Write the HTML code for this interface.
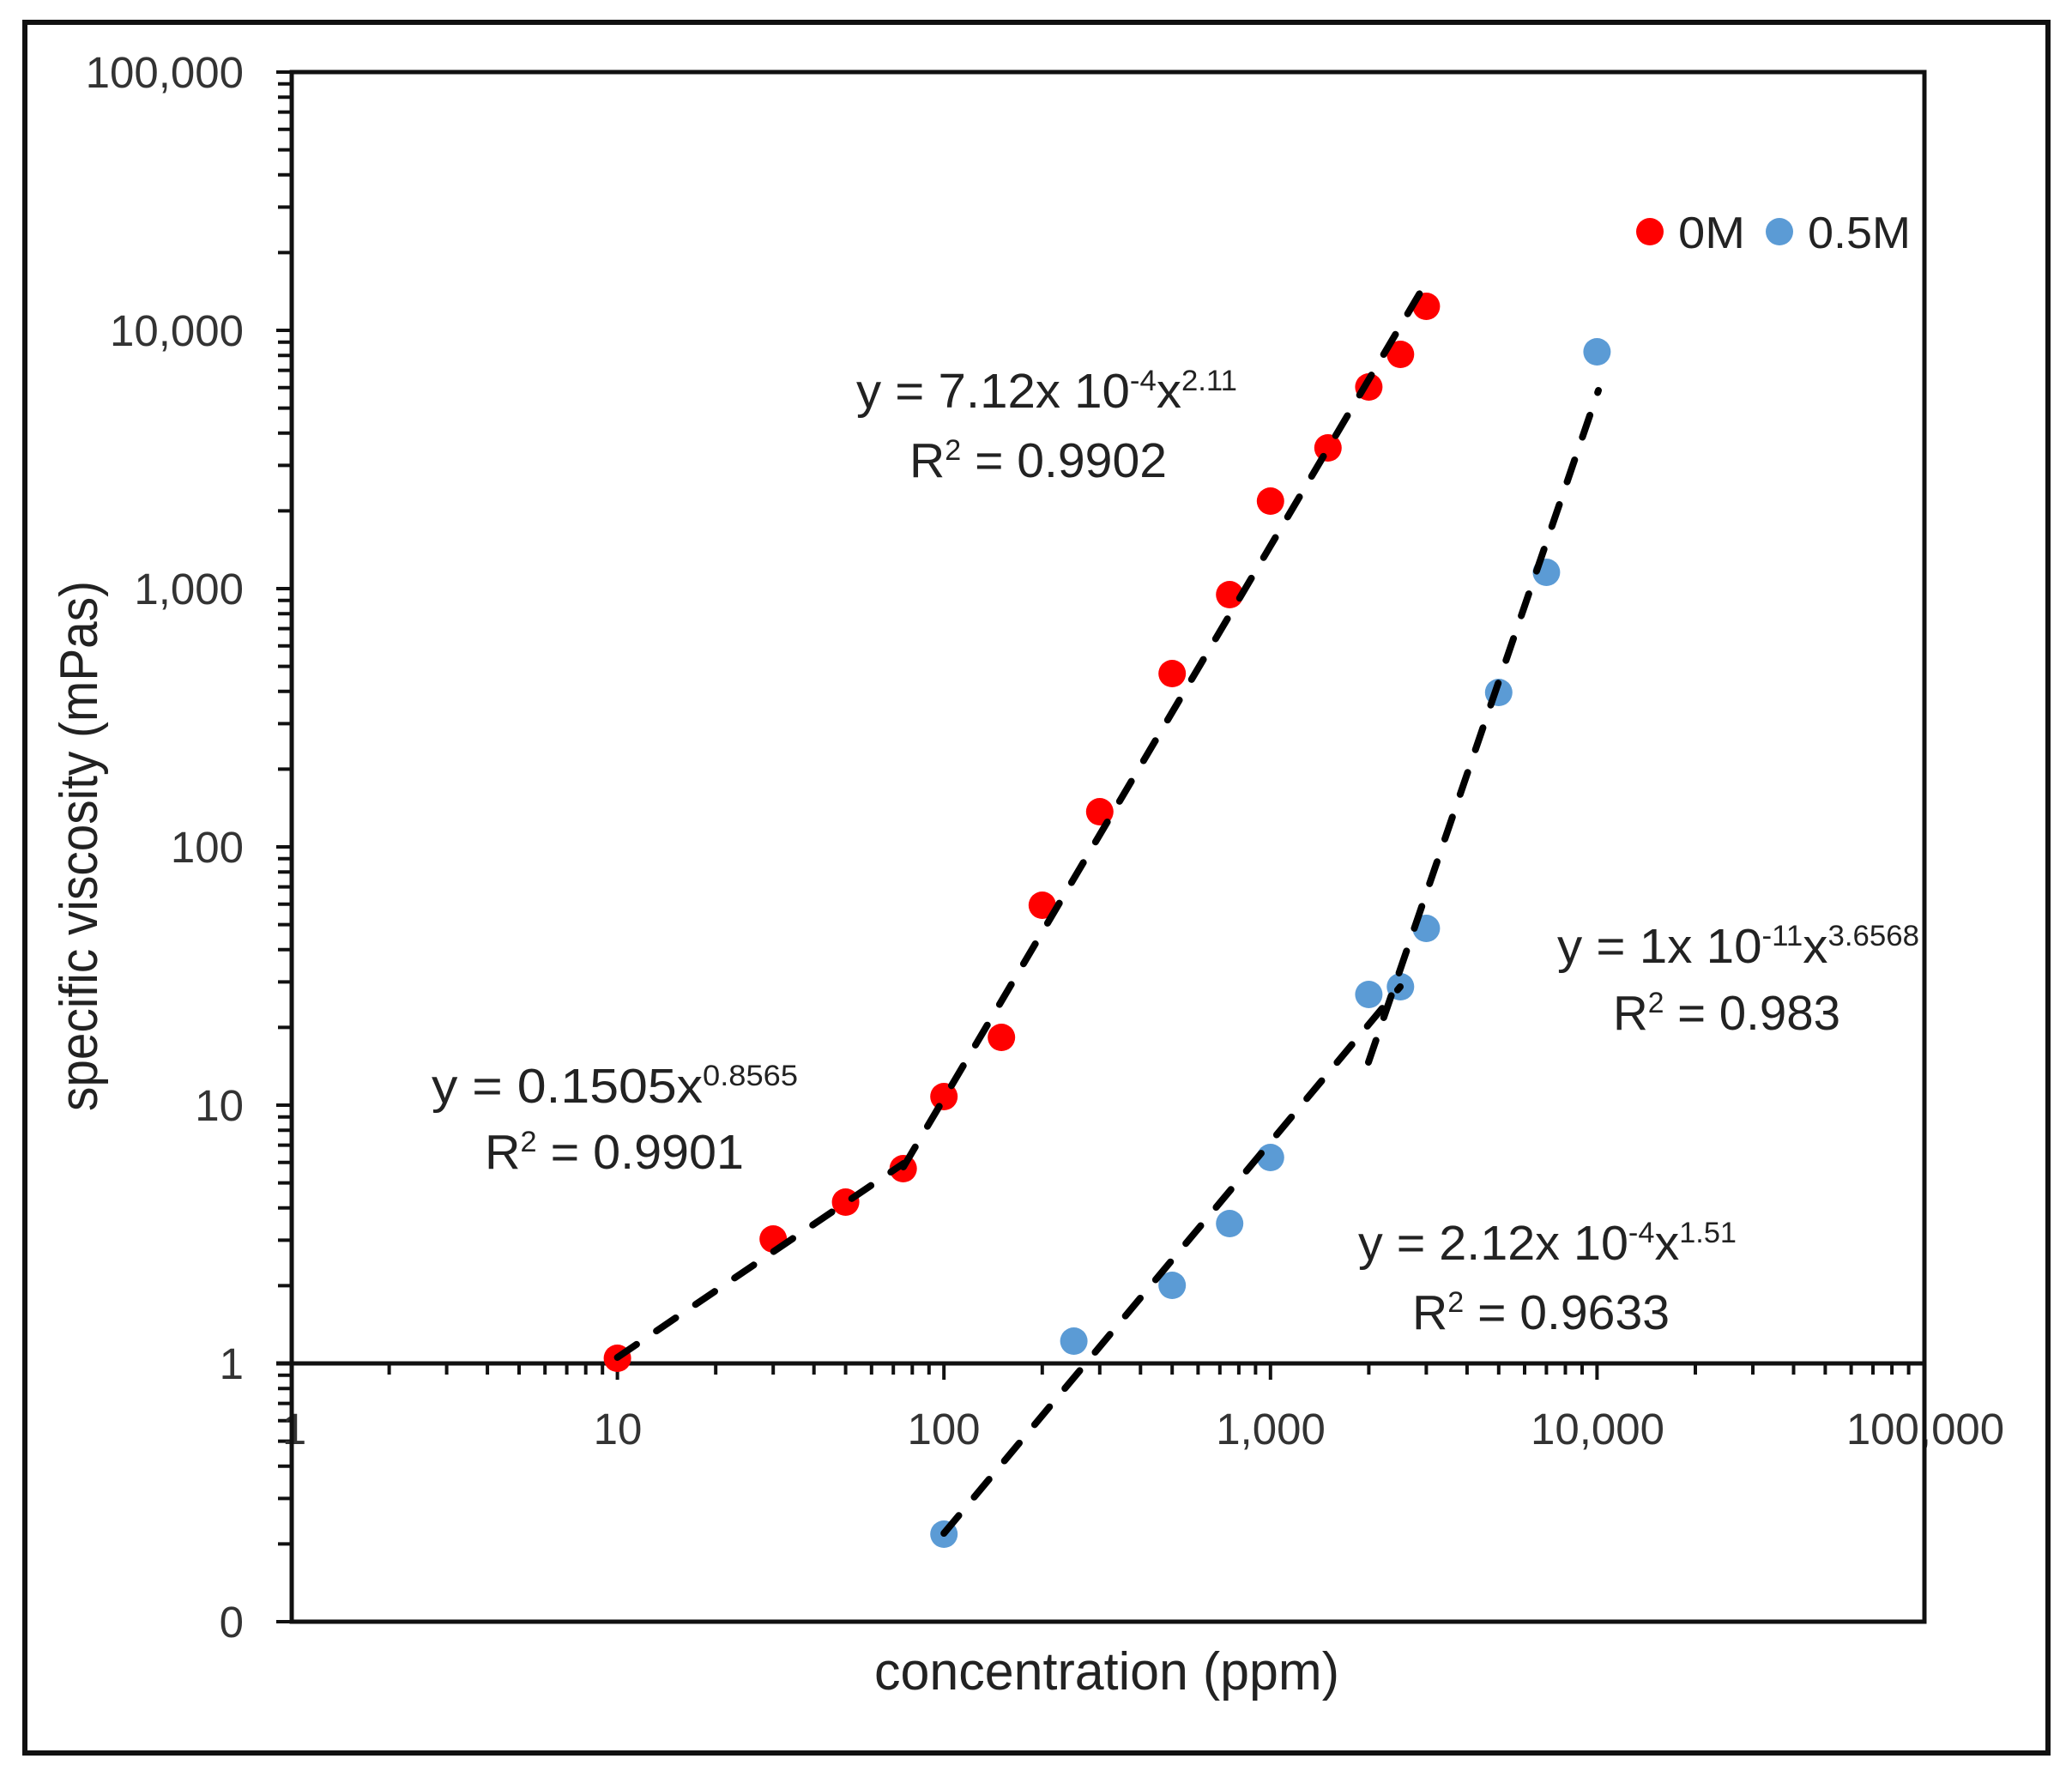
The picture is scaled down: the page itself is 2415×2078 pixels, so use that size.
<!DOCTYPE html>
<html>
<head>
<meta charset="utf-8">
<style>
  html, body { margin: 0; padding: 0; background: #ffffff; }
  svg { display: block; }
  text { font-family: "Liberation Sans", Arial, sans-serif; }
</style>
</head>
<body>
<svg width="2415" height="2078" viewBox="0 0 2415 2078" xmlns="http://www.w3.org/2000/svg">
  <rect x="0" y="0" width="2415" height="2078" fill="#ffffff"/>
  <!-- outer frame -->
  <rect x="29" y="26" width="2358" height="2017" fill="none" stroke="#111" stroke-width="6"/>

  <!-- plot border -->
  <rect x="340" y="84" width="1903" height="1806" fill="none" stroke="#111" stroke-width="5"/>
  <!-- x-axis line at y=1 -->
  <line x1="322" y1="1589" x2="2243" y2="1589" stroke="#111" stroke-width="5"/>

  <!-- Y ticks (left of axis) -->
  <g stroke="#111" stroke-width="4">
    <line x1="322" y1="84" x2="340" y2="84"/>
    <line x1="322" y1="385" x2="340" y2="385"/>
    <line x1="322" y1="686" x2="340" y2="686"/>
    <line x1="322" y1="987" x2="340" y2="987"/>
    <line x1="322" y1="1288" x2="340" y2="1288"/>
    <line x1="322" y1="1589" x2="340" y2="1589"/>
    <line x1="322" y1="1890" x2="340" y2="1890"/>
    <path d="M324 1799.4H340M324 1746.4H340M324 1708.8H340M324 1679.6H340M324 1655.8H340M324 1635.6H340M324 1618.2H340M324 1602.8H340
             M324 1498.4H340M324 1445.4H340M324 1407.8H340M324 1378.6H340M324 1354.8H340M324 1334.6H340M324 1317.2H340M324 1301.8H340
             M324 1197.4H340M324 1144.4H340M324 1106.8H340M324 1077.6H340M324 1053.8H340M324 1033.6H340M324 1016.2H340M324 1000.8H340
             M324 896.4H340M324 843.4H340M324 805.8H340M324 776.6H340M324 752.8H340M324 732.6H340M324 715.2H340M324 699.8H340
             M324 595.4H340M324 542.4H340M324 504.8H340M324 475.6H340M324 451.8H340M324 431.6H340M324 414.2H340M324 398.8H340
             M324 294.4H340M324 241.4H340M324 203.8H340M324 174.6H340M324 150.8H340M324 130.6H340M324 113.2H340M324 97.8H340"/>
  </g>

  <!-- X ticks (below y=1 line) -->
  <g stroke="#111" stroke-width="4">
    <path d="M719.6 1589V1608M1100.2 1589V1608M1480.8 1589V1608M1861.4 1589V1608"/>
    <path d="M453.6 1589V1602M520.6 1589V1602M568.1 1589V1602M605 1589V1602M635.2 1589V1602M660.6 1589V1602M682.7 1589V1602M702.2 1589V1602
             M834.2 1589V1602M901.2 1589V1602M948.7 1589V1602M985.6 1589V1602M1015.8 1589V1602M1041.2 1589V1602M1063.3 1589V1602M1082.8 1589V1602
             M1214.8 1589V1602M1281.8 1589V1602M1329.3 1589V1602M1366.2 1589V1602M1396.4 1589V1602M1421.8 1589V1602M1443.9 1589V1602M1463.4 1589V1602
             M1595.4 1589V1602M1662.4 1589V1602M1709.9 1589V1602M1746.8 1589V1602M1777 1589V1602M1802.4 1589V1602M1824.5 1589V1602M1844 1589V1602
             M1976 1589V1602M2043 1589V1602M2090.5 1589V1602M2127.4 1589V1602M2157.6 1589V1602M2183 1589V1602M2205.1 1589V1602M2224.6 1589V1602"/>
  </g>

  <!-- Y tick labels -->
  <g font-size="51" fill="#333" text-anchor="end">
    <text x="284" y="102">100,000</text>
    <text x="284" y="403">10,000</text>
    <text x="284" y="704">1,000</text>
    <text x="284" y="1005">100</text>
    <text x="284" y="1306">10</text>
    <text x="284" y="1607">1</text>
    <text x="284" y="1908">0</text>
  </g>

  <!-- X tick labels -->
  <g font-size="51" fill="#333" text-anchor="middle">
    <text x="343" y="1683">1</text>
    <text x="720" y="1683">10</text>
    <text x="1100" y="1683">100</text>
    <text x="1481" y="1683">1,000</text>
    <text x="1862" y="1683">10,000</text>
    <text x="2244" y="1683">100,000</text>
  </g>
  <line x1="2243" y1="84" x2="2243" y2="1890" stroke="#111" stroke-width="5"/>
  <line x1="340" y1="84" x2="340" y2="1890" stroke="#111" stroke-width="5"/>

  <!-- Axis titles -->
  <text x="1290" y="1969" font-size="62" fill="#222" text-anchor="middle" textLength="542" lengthAdjust="spacingAndGlyphs">concentration (ppm)</text>
  <text transform="translate(113,986) rotate(-90)" x="0" y="0" font-size="62" fill="#222" text-anchor="middle" textLength="618" lengthAdjust="spacingAndGlyphs">specific viscosity (mPas)</text>

  <!-- Data markers: 0M (red) -->
  <g fill="#ff0000">
    <circle cx="719.6" cy="1583" r="16"/>
    <circle cx="901.2" cy="1444" r="16"/>
    <circle cx="985.6" cy="1401" r="16"/>
    <circle cx="1052.7" cy="1362" r="16"/>
    <circle cx="1100.2" cy="1278" r="16"/>
    <circle cx="1167.2" cy="1209" r="16"/>
    <circle cx="1214.8" cy="1055" r="16"/>
    <circle cx="1281.8" cy="946" r="16"/>
    <circle cx="1366.2" cy="785" r="16"/>
    <circle cx="1433.2" cy="693" r="16"/>
    <circle cx="1480.8" cy="584" r="16"/>
    <circle cx="1547.8" cy="522" r="16"/>
    <circle cx="1595.4" cy="451" r="16"/>
    <circle cx="1632.3" cy="413" r="16"/>
    <circle cx="1662.4" cy="357" r="16"/>
  </g>
  <!-- Data markers: 0.5M (blue) -->
  <g fill="#5b9bd5">
    <circle cx="1100.2" cy="1788" r="16"/>
    <circle cx="1251.6" cy="1563" r="16"/>
    <circle cx="1366.2" cy="1498" r="16"/>
    <circle cx="1433.2" cy="1426" r="16"/>
    <circle cx="1480.8" cy="1349" r="16"/>
    <circle cx="1595.4" cy="1159" r="16"/>
    <circle cx="1632.3" cy="1150" r="16"/>
    <circle cx="1662.4" cy="1082" r="16"/>
    <circle cx="1746.8" cy="807" r="16"/>
    <circle cx="1802.4" cy="667" r="16"/>
    <circle cx="1861.4" cy="410" r="16"/>
  </g>

  <!-- Trendlines (dashed) -->
  <g stroke="#000" stroke-width="8" stroke-linecap="round" stroke-dasharray="27 28" fill="none">
    <line x1="719.6" y1="1582" x2="1053" y2="1356"/>
    <line x1="1053" y1="1360" x2="1660" y2="333"/>
    <line x1="1100.2" y1="1787" x2="1632" y2="1150"/>
    <line x1="1595" y1="1238" x2="1863" y2="455"/>
  </g>

  <!-- Equations -->
  <g font-size="57" fill="#222">
    <text x="998" y="475" textLength="444" lengthAdjust="spacingAndGlyphs">y = 7.12x 10<tspan font-size="34" dy="-20">-4</tspan><tspan dy="20">x</tspan><tspan font-size="34" dy="-20">2.11</tspan></text>
    <text x="1060" y="556" textLength="300" lengthAdjust="spacingAndGlyphs">R<tspan font-size="34" dy="-20">2</tspan><tspan dy="20"> = 0.9902</tspan></text>

    <text x="503" y="1285" textLength="427" lengthAdjust="spacingAndGlyphs">y = 0.1505x<tspan font-size="34" dy="-20">0.8565</tspan></text>
    <text x="565" y="1362" textLength="302" lengthAdjust="spacingAndGlyphs">R<tspan font-size="34" dy="-20">2</tspan><tspan dy="20"> = 0.9901</tspan></text>

    <text x="1815" y="1122" textLength="422" lengthAdjust="spacingAndGlyphs">y = 1x 10<tspan font-size="34" dy="-20">-11</tspan><tspan dy="20">x</tspan><tspan font-size="34" dy="-20">3.6568</tspan></text>
    <text x="1880" y="1200" textLength="265" lengthAdjust="spacingAndGlyphs">R<tspan font-size="34" dy="-20">2</tspan><tspan dy="20"> = 0.983</tspan></text>

    <text x="1583" y="1468" textLength="441" lengthAdjust="spacingAndGlyphs">y = 2.12x 10<tspan font-size="34" dy="-20">-4</tspan><tspan dy="20">x</tspan><tspan font-size="34" dy="-20">1.51</tspan></text>
    <text x="1646" y="1549" textLength="300" lengthAdjust="spacingAndGlyphs">R<tspan font-size="34" dy="-20">2</tspan><tspan dy="20"> = 0.9633</tspan></text>
  </g>

  <!-- Legend -->
  <circle cx="1923" cy="270" r="16" fill="#ff0000"/>
  <text x="1956" y="289" font-size="52" fill="#222" textLength="78" lengthAdjust="spacingAndGlyphs">0M</text>
  <circle cx="2074" cy="270" r="16" fill="#5b9bd5"/>
  <text x="2107" y="289" font-size="52" fill="#222" textLength="120" lengthAdjust="spacingAndGlyphs">0.5M</text>
</svg>
</body>
</html>
